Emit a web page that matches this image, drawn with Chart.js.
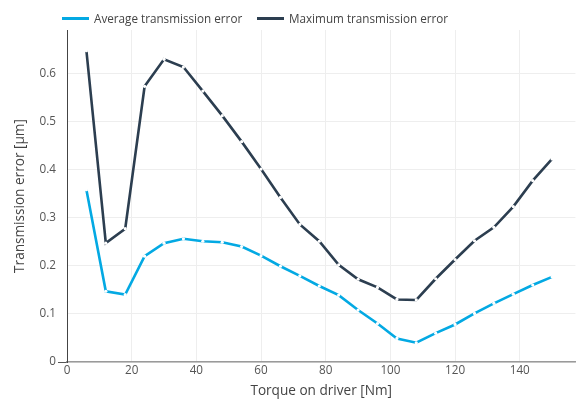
<!DOCTYPE html>
<html>
<head>
<meta charset="utf-8">
<script src="https://cdn.jsdelivr.net/npm/chart.js@4.4.1/dist/chart.umd.min.js"></script>
<style>
  body { margin: 0; background: #fff; }
  #wrap { position: relative; width: 577px; height: 400px; }
  #legend { position: absolute; left: 0; top: 0; width: 577px; height: 30px; font: 11.7px "Open Sans", sans-serif; color: #444; }
  .item { position: absolute; top: 10px; height: 16px; line-height: 16px; white-space: nowrap; }
  .swatch { position: absolute; left: 0; top: 7px; width: 27px; height: 2.6px; }
  .item span.label { position: absolute; left: 32px; top: 0; }
</style>
</head>
<body>
<div id="wrap">
  <canvas id="myChart" width="577" height="400"></canvas>
  <div id="legend"></div>
</div>
<script>
const torque = [6, 12, 18, 24, 30, 36, 42, 48, 54, 60, 66, 72, 78, 84, 90, 96, 102, 108, 114, 120, 126, 132, 138, 144, 150]
const avgError = [0.358, 0.147, 0.140, 0.220, 0.247, 0.256, 0.251, 0.249, 0.240, 0.221, 0.199, 0.179, 0.158,
  0.139, 0.108, 0.080, 0.049, 0.040, 0.060, 0.078, 0.101, 0.122, 0.141, 0.160, 0.177]
const maxError = [0.647, 0.247, 0.277, 0.573, 0.629, 0.613, 0.563, 0.512, 0.458, 0.401, 0.342, 0.286, 0.251,
  0.202, 0.172, 0.155, 0.130, 0.129, 0.173, 0.213, 0.252, 0.280, 0.323, 0.377, 0.422]
const seriesNames = ['Average transmission error', 'Maximum transmission error']
const seriesColors = ['#03a9e3', '#2c3e50']
const xTitle = 'Torque on driver [Nm]'
const yTitle = 'Transmission error [µm]'

const toPoints = (ys) => ys.map((y, i) => ({ x: torque[i], y: y }))

const makeSet = (idx, ys) => ({
  label: seriesNames[idx],
  data: toPoints(ys),
  borderColor: seriesColors[idx],
  borderWidth: 2.6,
  tension: 0,
  pointRadius: 1.6,
  pointBackgroundColor: '#fff',
  pointBorderWidth: 0,
  pointHoverRadius: 0
})

const tickFont = { family: 'Open Sans', size: 11.7 }
const titleFont = { family: 'Open Sans', size: 13.6 }

const chart = new Chart('myChart', {
  type: 'line',
  data: {
    datasets: [makeSet(0, avgError), makeSet(1, maxError)]
  },
  options: {
    responsive: false,
    animation: false,
    layout: { padding: { top: 30, right: 1, bottom: 0, left: 0 } },
    plugins: {
      legend: { display: false },
      tooltip: { enabled: false }
    },
    scales: {
      x: {
        type: 'linear',
        min: 0,
        max: 157.2,
        afterFit: (scale) => { scale.height = 38 },
        ticks: { stepSize: 20, includeBounds: false, padding: 1.5, color: '#555', font: tickFont, maxRotation: 0 },
        grid: { color: '#eee', drawTicks: false },
        border: { color: '#9a9a9a', width: 1.5 },
        title: { display: true, text: xTitle, color: '#444', font: titleFont, padding: { top: 0, bottom: 1 } }
      },
      y: {
        min: 0,
        max: 0.69,
        afterFit: (scale) => { scale.width = 67 },
        ticks: {
          stepSize: 0.1,
          includeBounds: false,
          padding: 2,
          color: '#555',
          font: tickFont,
          callback: (v) => v === 0 ? '0' : v.toFixed(1)
        },
        grid: {
          color: '#eee',
          tickLength: 9,
          tickColor: (ctx) => ctx.tick && ctx.tick.value === 0 ? '#555' : 'rgba(0,0,0,0)'
        },
        border: { color: '#444', width: 1 },
        title: { display: true, text: yTitle, color: '#444', font: titleFont, padding: { top: 11.5, bottom: 0 } }
      }
    }
  }
})

// simple html legend built from the datasets
const legendBox = document.getElementById('legend')
const itemLeft = [62, 257]
chart.data.datasets.forEach((ds, i) => {
  const item = document.createElement('div')
  item.className = 'item'
  item.style.left = itemLeft[i] + 'px'
  const sw = document.createElement('div')
  sw.className = 'swatch'
  sw.style.background = ds.borderColor
  const lbl = document.createElement('span')
  lbl.className = 'label'
  lbl.textContent = ds.label
  item.appendChild(sw)
  item.appendChild(lbl)
  legendBox.appendChild(item)
})
</script>
</body>
</html>
